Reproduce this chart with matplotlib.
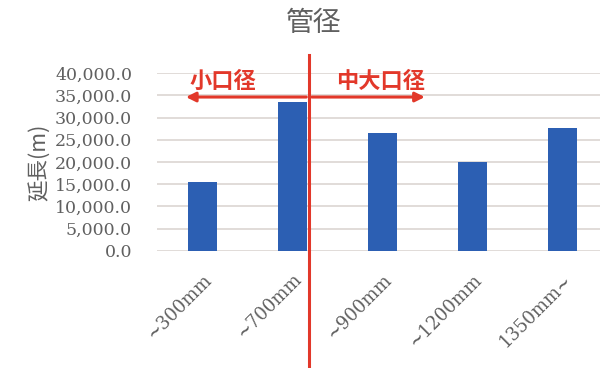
import matplotlib.pyplot as plt
import matplotlib.transforms as mtransforms

plt.rcParams['font.family'] = ['DejaVu Serif', 'Noto Sans CJK JP']

categories = ['~300mm', '~700mm', '~900mm', '~1200mm', '1350mm~']
lengths = [15500, 33500, 26500, 20000, 27600]
yticks = [0, 5000, 10000, 15000, 20000, 25000, 30000, 35000, 40000]

grey = '#606060'
red = '#e2382a'
blue = '#2c5fb3'

fig = plt.figure(figsize=(6, 3.68), dpi=100)
ax = fig.add_axes([157 / 600, 0.318, 451 / 600, 0.4836])

x = list(range(len(categories)))
ax.bar(x, lengths, width=0.32, color=blue, zorder=2)
ax.set_xlim(-0.5, 4.5)
ax.set_ylim(0, 40000)
ax.set_yticks(yticks)
ax.set_yticklabels([f'{v:,.1f}' for v in yticks], fontsize=12.5, color=grey)
ax.yaxis.grid(True, color='#dcd6d2', linewidth=1.2, zorder=0)
ax.tick_params(axis='y', length=0, pad=18)
ax.tick_params(axis='x', length=0, pad=14)
ax.set_xticks(x)
ax.set_xticklabels(categories, rotation=45, ha='right', rotation_mode='anchor',
                   fontsize=13, color=grey)
for s in ax.spines.values():
    s.set_visible(False)

ax.set_ylabel('延長(m)', fontsize=15.5, color=grey, family=['Noto Sans CJK JP'])
ax.yaxis.set_label_coords(-0.238, 0.5)
fig.text(0.522, 0.937, '管径', ha='center', va='center', fontsize=20, color=grey,
         family=['Noto Sans CJK JP'])

# divider and arrows
trans = mtransforms.blended_transform_factory(ax.transData, ax.transAxes)
ax.plot([1.186, 1.186], [-0.66, 1.10], color=red, linewidth=2.2, transform=trans,
        clip_on=False, zorder=4)
ax.annotate('', xy=(-0.21, 34600), xytext=(1.186, 34600),
            arrowprops=dict(arrowstyle='-|>', color=red, lw=2.2, mutation_scale=14),
            annotation_clip=False, zorder=4)
ax.annotate('', xy=(2.5, 34600), xytext=(1.186, 34600),
            arrowprops=dict(arrowstyle='-|>', color=red, lw=2.2, mutation_scale=14),
            annotation_clip=False, zorder=4)
ax.text(0.23, 38000, '小口径', ha='center', va='center', fontsize=16, color=red,
        fontweight='bold', family=['Noto Sans CJK JP'], zorder=5)
ax.text(1.98, 38000, '中大口径', ha='center', va='center', fontsize=16, color=red,
        fontweight='bold', family=['Noto Sans CJK JP'], zorder=5)

fig.savefig('out.png', dpi=100)
